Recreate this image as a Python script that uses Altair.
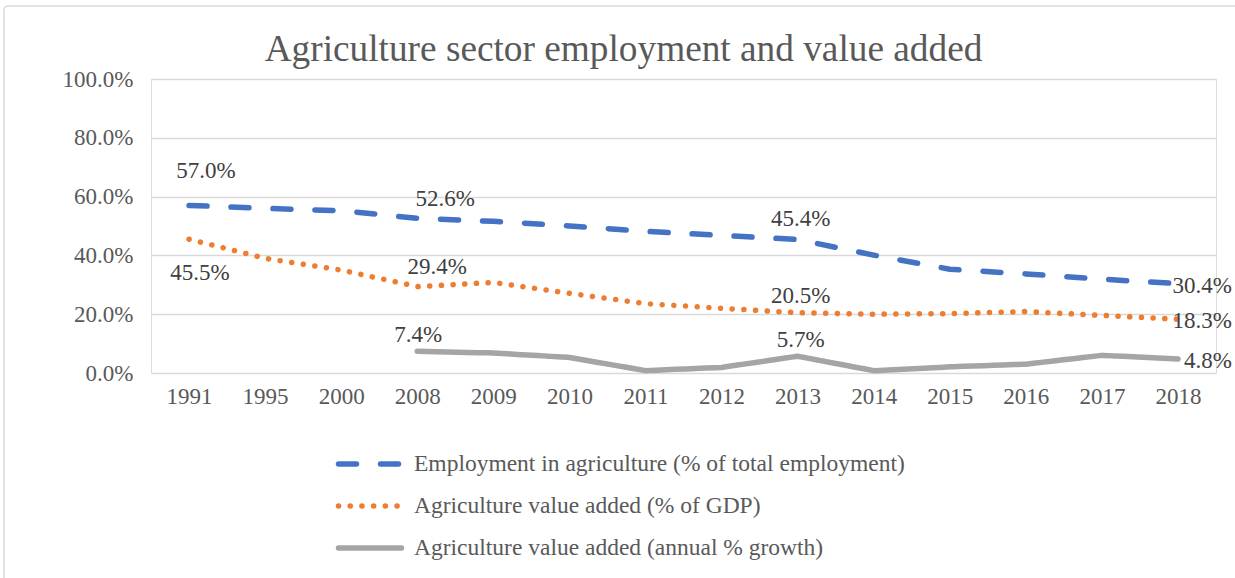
import altair as alt
import pandas as pd

years = ["1991", "1995", "2000", "2008", "2009", "2010", "2011",
         "2012", "2013", "2014", "2015", "2016", "2017", "2018"]
emp = [57.0, 56.0, 55.2, 52.6, 51.6, 50.0, 48.2, 46.8, 45.4, 40.1, 35.3, 33.7, 31.9, 30.4]
gdp = [45.5, 39.0, 35.0, 29.4, 30.8, 27.1, 23.6, 22.0, 20.5, 20.0, 20.2, 20.9, 19.6, 18.3]
growth = [None, None, None, 7.4, 6.8, 5.3, 0.8, 1.9, 5.7, 0.8, 2.1, 3.0, 6.0, 4.8]

series_names = [
    "Employment in agriculture (% of total employment)",
    "Agriculture value added (% of GDP)",
    "Agriculture value added (annual % growth)",
]
colors = ["#4472C4", "#ED7D31", "#A5A5A5"]
dashes = [[18, 24], [0.1, 11.6], [10, 0]]

rows = []
for name, vals in zip(series_names, [emp, gdp, growth]):
    for yr, v in zip(years, vals):
        if v is not None:
            rows.append({"year": yr, "series": name, "value": v / 100})
df = pd.DataFrame(rows)

FONT = "Liberation Serif"
x_scale = alt.Scale(type="point", padding=0.5, domain=years)
x_axis = alt.Axis(title=None, labelAngle=0, ticks=False, domain=False, grid=False,
                  labelFontSize=23, labelColor="#595959", labelPadding=12, labelFont=FONT)
y_scale = alt.Scale(domain=[0, 1])
y_axis = alt.Axis(title=None, format=".1%", values=[0, 0.2, 0.4, 0.6, 0.8, 1.0],
                  ticks=False, domain=False, grid=True, gridColor="#D9D9D9", gridWidth=1.5,
                  labelFontSize=23, labelColor="#595959", labelPadding=18, labelFont=FONT)
color_enc = alt.Color("series:N", scale=alt.Scale(domain=series_names, range=colors), legend=None)
dash_enc = alt.StrokeDash("series:N", scale=alt.Scale(domain=series_names, range=dashes), legend=None)

lines = alt.Chart(df).mark_line(strokeWidth=5.5, strokeCap="round", strokeJoin="round").encode(
    x=alt.X("year:O", scale=x_scale, axis=x_axis),
    y=alt.Y("value:Q", scale=y_scale, axis=y_axis),
    color=color_enc,
    strokeDash=dash_enc,
)


def label(series_idx, year, dx, dy, align="center"):
    return alt.Chart(df).transform_filter(
        (alt.datum.series == series_names[series_idx]) & (alt.datum.year == year)
    ).mark_text(dx=dx, dy=dy, align=align, baseline="middle", font=FONT,
                fontSize=23, color="#404040").encode(
        x=alt.X("year:O", scale=x_scale, axis=x_axis),
        y=alt.Y("value:Q", scale=y_scale, axis=None),
        text=alt.Text("value:Q", format=".1%"),
    )


labels = [
    label(0, "1991", 17, -34),
    label(1, "1991", 11, 34),
    label(0, "2008", 28, -19),
    label(1, "2008", 20, -20),
    label(2, "2008", 1, -16),
    label(0, "2013", 3, -21),
    label(1, "2013", 3, -17),
    label(2, "2013", 3, -16),
    label(0, "2018", 54, 2, "right"),
    label(1, "2018", 54, 2, "right"),
    label(2, "2018", 54, 2, "right"),
]

leg_df = pd.DataFrame({"series": series_names})
leg_y = alt.Y("series:N", scale=alt.Scale(type="point", domain=series_names, range=[385, 469], padding=0), axis=None)
legend_rules = alt.Chart(leg_df).mark_rule(strokeWidth=5.5, strokeCap="round").encode(
    x=alt.value(187.5), x2=alt.value(250.5), y=leg_y, color=color_enc, strokeDash=dash_enc
)
legend_text = alt.Chart(leg_df).mark_text(align="left", baseline="middle", font=FONT,
                                          fontSize=23.5, color="#595959").encode(
    x=alt.value(263), y=leg_y, text="series:N"
)

border = alt.Chart(pd.DataFrame({"a": [0]})).mark_rect(
    fillOpacity=0, stroke="#D9D9D9", strokeWidth=1.5, cornerRadius=4
).encode(x=alt.value(-147), x2=alt.value(1095), y=alt.value(-73), y2=alt.value(515))

chart = alt.layer(lines, *labels, legend_rules, legend_text, border).resolve_scale(
    y="independent"
).properties(
    width=1065,
    height=294,
    autosize=alt.AutoSizeParams(type="none"),
    padding={"left": 151, "top": 79, "right": 19, "bottom": 205},
    title=alt.TitleParams("Agriculture sector employment and value added", font=FONT,
                          fontSize=37.3, color="#595959", fontWeight="normal",
                          anchor="middle", frame="group", dx=-60, offset=-64),
).configure_view(stroke=None).configure(background="white")

chart.save("out.html", embed_options={"renderer": "svg", "actions": False})
